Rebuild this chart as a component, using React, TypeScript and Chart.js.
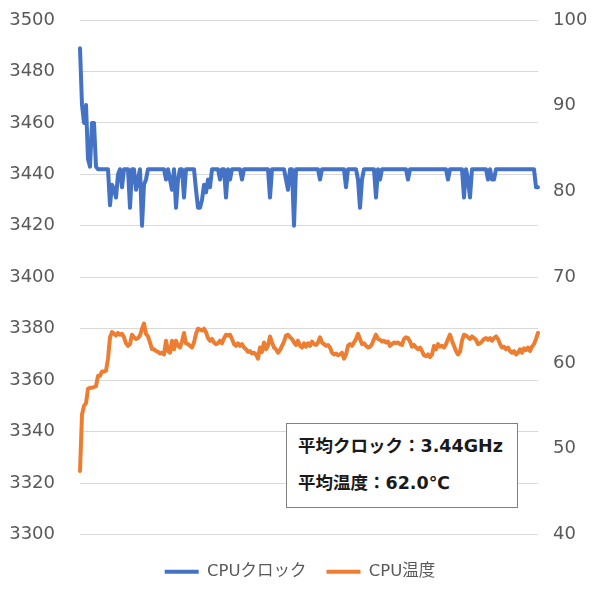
import React, { useEffect, useRef } from "react";
import { Chart, registerables } from "chart.js";

Chart.register(...registerables);

const FONT = "'DejaVu Sans', 'Noto Sans CJK JP', sans-serif";

const seriesNames = ["CPUクロック", "CPU温度"];
const annotationLines = ["平均クロック：3.44GHz", "平均温度：62.0℃"];

const clockTicks = [3300, 3320, 3340, 3360, 3380, 3400, 3420, 3440, 3460, 3480, 3500];
const tempTicks = [40, 50, 60, 70, 80, 90, 100];

// CPU clock (MHz), one sample per point
const cpuClock = [
  3489, 3467, 3460, 3467, 3446, 3443, 3460, 3460, 3443, 3442,
  3442, 3442, 3442, 3442, 3442, 3428, 3436, 3434, 3431, 3440,
  3442, 3435, 3442, 3442, 3442, 3427, 3442, 3442, 3434, 3438,
  3442, 3420, 3436, 3438, 3442, 3442, 3442, 3442, 3442, 3442,
  3442, 3442, 3442, 3438, 3442, 3438, 3434, 3442, 3427, 3438,
  3442, 3442, 3431, 3442, 3442, 3442, 3442, 3442, 3434, 3427,
  3427, 3430, 3436, 3433, 3438, 3435, 3442, 3442, 3442, 3442,
  3438, 3442, 3442, 3431, 3442, 3438, 3442, 3442, 3442, 3442,
  3442, 3438, 3442, 3442, 3442, 3442, 3442, 3442, 3442, 3442,
  3442, 3442, 3442, 3442, 3442, 3431, 3442, 3442, 3442, 3442,
  3442, 3442, 3442, 3438, 3434, 3442, 3442, 3420, 3442, 3442,
  3442, 3442, 3442, 3442, 3442, 3442, 3442, 3442, 3442, 3442,
  3438, 3442, 3442, 3442, 3442, 3442, 3442, 3442, 3442, 3442,
  3442, 3442, 3442, 3435, 3442, 3442, 3442, 3442, 3442, 3438,
  3427, 3438, 3442, 3442, 3442, 3442, 3442, 3442, 3431, 3442,
  3438, 3442, 3442, 3442, 3442, 3442, 3442, 3442, 3442, 3442,
  3442, 3442, 3442, 3442, 3438, 3442, 3442, 3442, 3442, 3442,
  3442, 3442, 3442, 3442, 3442, 3442, 3442, 3442, 3442, 3442,
  3442, 3442, 3442, 3442, 3438, 3442, 3442, 3442, 3442, 3442,
  3442, 3442, 3431, 3442, 3438, 3431, 3442, 3442, 3442, 3442,
  3442, 3442, 3442, 3442, 3438, 3442, 3438, 3438, 3442, 3442,
  3442, 3442, 3442, 3442, 3442, 3442, 3442, 3442, 3442, 3442,
  3442, 3442, 3442, 3442, 3442, 3442, 3442, 3442, 3435, 3435,
];

// CPU temperature (°C)
const cpuTemp = [
  47.4, 54.0, 55.0, 55.3, 57.0, 57.1, 57.1, 57.2, 57.3, 58.5,
  58.5, 59.0, 59.0, 59.1, 60.5, 63.0, 63.6, 63.4, 63.2, 63.5,
  63.3, 63.4, 63.0, 62.3, 62.0, 62.2, 63.3, 63.0, 62.8, 62.9,
  63.2, 64.0, 64.6, 63.4, 63.1, 62.4, 61.6, 61.6, 61.4, 61.3,
  61.1, 61.2, 61.0, 62.6, 61.4, 61.2, 62.6, 61.6, 62.6, 62.0,
  61.8, 62.5, 63.5, 62.3, 62.2, 62.0, 61.8, 62.4, 63.4, 64.0,
  63.9, 63.8, 64.0, 63.6, 62.9, 62.6, 62.8, 62.4, 62.2, 62.3,
  62.6, 62.3, 62.9, 63.3, 63.2, 63.3, 62.8, 62.2, 62.0, 62.3,
  62.0, 62.2, 61.8, 61.6, 61.3, 61.4, 61.1, 61.2, 61.0, 60.5,
  61.8, 61.3, 62.4, 61.6, 62.0, 63.1, 62.4, 61.8, 61.6, 61.2,
  61.5, 62.0, 62.5, 63.2, 63.3, 63.0, 62.8, 62.4, 62.1, 62.6,
  62.0, 61.8, 62.3, 61.9, 62.3, 62.0, 62.5, 62.2, 62.1, 62.4,
  63.0, 62.4, 62.2, 62.0, 62.1, 61.8, 61.2, 61.0, 61.1, 60.9,
  61.0, 61.2, 60.5, 61.0, 62.0, 62.2, 62.0, 62.4, 62.8, 63.4,
  62.8, 62.2, 62.3, 62.0, 61.8, 61.9, 62.2, 62.8, 63.3, 62.8,
  62.7, 62.5, 62.6, 62.4, 62.5, 62.0, 62.2, 62.4, 62.3, 62.4,
  62.2, 62.1, 62.8, 63.0, 62.9, 62.5, 61.9, 62.1, 61.8, 61.6,
  61.8, 61.4, 60.9, 60.8, 61.0, 60.7, 61.0, 62.0, 61.6, 62.2,
  61.9, 62.0, 61.8, 62.2, 62.8, 63.3, 62.6, 62.0, 61.4, 61.0,
  61.3, 62.6, 63.3, 63.2, 63.0, 62.8, 63.1, 62.9, 62.7, 62.2,
  62.3, 62.5, 62.8, 62.9, 62.7, 62.9, 62.6, 62.9, 63.1, 62.8,
  62.2, 61.8, 61.9, 61.6, 61.8, 61.4, 61.2, 61.4, 61.0, 61.2,
  61.6, 61.2, 61.7, 61.5, 61.8, 61.4, 61.9, 62.2, 62.8, 63.5,
];

const sampleLabels = cpuClock.map((_, i) => String(i + 1));

export default function App() {
  const canvasRef = useRef<HTMLCanvasElement | null>(null);

  useEffect(() => {
    if (!canvasRef.current) return;
    const chart = new Chart(canvasRef.current, {
      type: "line",
      data: {
        labels: sampleLabels,
        datasets: [
          {
            label: seriesNames[0],
            data: cpuClock,
            yAxisID: "y",
            borderColor: "#4472C4",
            backgroundColor: "#4472C4",
            borderWidth: 4,
            pointRadius: 0,
            tension: 0,
            borderJoinStyle: "round",
            borderCapStyle: "round",
          },
          {
            label: seriesNames[1],
            data: cpuTemp,
            yAxisID: "y1",
            borderColor: "#ED7D31",
            backgroundColor: "#ED7D31",
            borderWidth: 4,
            pointRadius: 0,
            tension: 0,
            borderJoinStyle: "round",
            borderCapStyle: "round",
          },
        ],
      },
      options: {
        responsive: true,
        maintainAspectRatio: false,
        animation: false,
        layout: { padding: { top: 20, left: 0, right: 0, bottom: 10 } },
        plugins: {
          tooltip: { enabled: false },
          legend: {
            position: "bottom",
            labels: {
              usePointStyle: true,
              pointStyle: "line",
              pointStyleWidth: 34,
              padding: 20,
              color: "#595959",
              font: { size: 16.5, family: FONT },
            },
          },
        },
        scales: {
          x: {
            type: "category",
            offset: false,
            grid: { display: false, drawTicks: false },
            border: { display: false },
            ticks: { display: false },
            afterFit: (s: any) => {
              s.height = 9;
            },
          },
          y: {
            position: "left",
            min: clockTicks[0],
            max: clockTicks[clockTicks.length - 1],
            afterBuildTicks: (s: any) => {
              s.ticks = clockTicks.map((v) => ({ value: v }));
            },
            grid: { color: "#d9d9d9", lineWidth: 1, drawTicks: false },
            border: { display: false },
            ticks: {
              color: "#595959",
              padding: 25,
              font: { size: 18, family: FONT },
              callback: (v: any) => String(v),
            },
            afterFit: (s: any) => {
              s.width = 80;
              s.paddingTop = 0;
              s.paddingBottom = 0;
            },
          },
          y1: {
            position: "right",
            min: tempTicks[0],
            max: tempTicks[tempTicks.length - 1],
            afterBuildTicks: (s: any) => {
              s.ticks = tempTicks.map((v) => ({ value: v }));
            },
            grid: { display: false, drawTicks: false },
            border: { display: false },
            ticks: {
              color: "#595959",
              padding: 15,
              font: { size: 18, family: FONT },
              callback: (v: any) => String(v),
            },
            afterFit: (s: any) => {
              s.width = 62;
              s.paddingTop = 0;
              s.paddingBottom = 0;
            },
          },
        },
      },
    });
    return () => chart.destroy();
  }, []);

  return (
    <div style={{ position: "absolute", left: 0, top: 0, width: 600, height: 600, background: "#fff" }}>
      <canvas ref={canvasRef} />
      <div
        style={{
          position: "absolute",
          left: 286,
          top: 423,
          width: 232,
          height: 85,
          boxSizing: "border-box",
          border: "1px solid #808080",
          background: "#fff",
          fontFamily: FONT,
          fontWeight: 700,
          fontSize: 17.5,
          color: "#1a1a1a",
        }}
      >
        <div style={{ position: "absolute", left: 11, top: 10, whiteSpace: "nowrap", lineHeight: "24px" }}>
          {annotationLines[0]}
        </div>
        <div style={{ position: "absolute", left: 11, top: 47, whiteSpace: "nowrap", lineHeight: "24px" }}>
          {annotationLines[1]}
        </div>
      </div>
    </div>
  );
}
